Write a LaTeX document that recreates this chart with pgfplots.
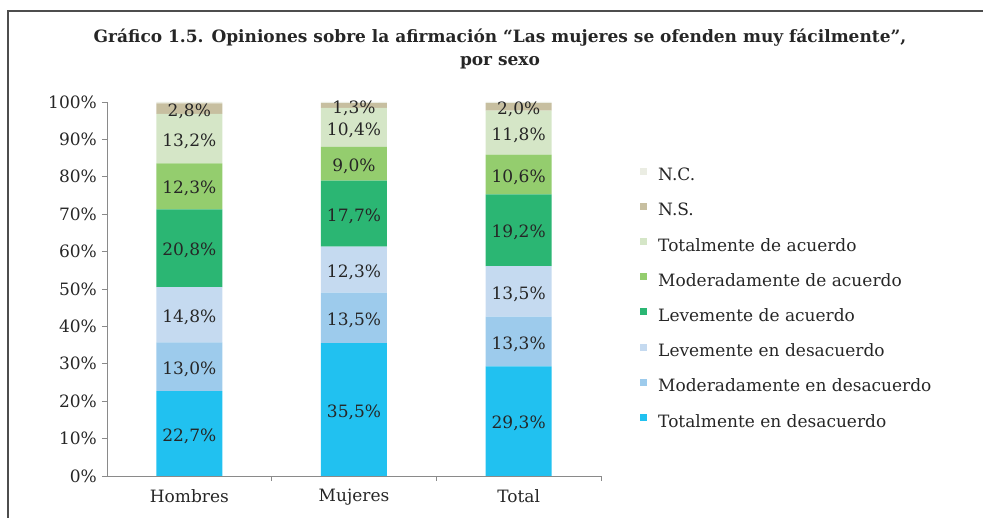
\documentclass[border=0pt]{standalone}
\usepackage{pgfplots}
\pgfplotsset{compat=1.18}
\usepackage{fontspec}
\setmainfont{DejaVu Serif}
\definecolor{cTD}{HTML}{21C1F0}
\definecolor{cMD}{HTML}{9DCBEC}
\definecolor{cLD}{HTML}{C5DAF0}
\definecolor{cLA}{HTML}{2BB673}
\definecolor{cMA}{HTML}{94CD6E}
\definecolor{cTA}{HTML}{D5E6C7}
\definecolor{cNS}{HTML}{C7BFA0}
\definecolor{cNC}{HTML}{EBEDE3}
\definecolor{textc}{HTML}{262626}
\definecolor{axisgray}{HTML}{8A8A8A}
\definecolor{framec}{HTML}{4D4D4D}
\pgfplotsset{
  lbl/.style={
    nodes near coords={\pgfmathprintnumber[fixed,fixed zerofill,precision=1,use comma,assume math mode=true]{\pgfplotspointmeta}\%},
    every node near coord/.append style={anchor=center, yshift=-2.5pt, font=\fontsize{17}{20}\selectfont, text=textc}
  }
}
\begin{document}
\begin{tikzpicture}[x=1pt,y=1pt]
\useasboundingbox (-107,-42) rectangle (876,476);
\begin{scope}
\clip (-107,-42) rectangle (876,476);
\draw[line width=1.5pt, color=framec] (-99,-80) rectangle (900,465);
\end{scope}
\node[font=\bfseries\fontsize{17}{23}\selectfont, align=center, text=textc] at (393,427.5)
  {Gráfico 1.5. Opiniones sobre la afirmación “Las mujeres se ofenden muy fácilmente”,\\ por sexo};
\begin{axis}[
  at={(0,0)}, anchor=south west,
  scale only axis, width=494pt, height=374pt,
  ybar stacked, bar width=66pt,
  xmin=-0.5, xmax=2.5, ymin=0, ymax=100,
  axis x line*=bottom, axis y line*=left,
  axis line style={-, color=axisgray, line width=0.8pt},
  ytick={0,10,...,100},
  yticklabel={\pgfmathprintnumber{\tick}\%},
  /pgf/number format/assume math mode=true,
  tick align=outside, major tick length=5pt,
  tick style={color=axisgray, line width=0.8pt},
  xtick={0,1,2}, xticklabels={Hombres,Mujeres,Total},
  xtick style={draw=none},
  extra x ticks={0.5,1.5,2.5}, extra x tick labels={},
  extra x tick style={xtick style={draw=axisgray}},
  tick label style={font=\fontsize{17}{20}\selectfont, text=textc, inner sep=0pt},
  yticklabel style={xshift=-5pt},
  xticklabel style={yshift=-8pt},
  reverse legend,
  legend cell align=left,
  legend style={draw=none, fill=none, inner sep=0pt, at={(1.079,0.825)}, anchor=north west,
    font=\fontsize{17}{20}\selectfont, text=textc, row sep=17.7pt,
    nodes={inner sep=0pt, text height=12.5pt, text depth=4.5pt},
    /tikz/every odd column/.append style={column sep=11pt}},
  legend image code/.code={\fill[#1] (0pt,2pt) rectangle (7pt,9pt);},
]
\addplot[fill=cTD, draw=none, lbl] coordinates {(0,22.7) (1,35.5) (2,29.3)};
\addplot[fill=cMD, draw=none, lbl] coordinates {(0,13.0) (1,13.5) (2,13.3)};
\addplot[fill=cLD, draw=none, lbl] coordinates {(0,14.8) (1,12.3) (2,13.5)};
\addplot[fill=cLA, draw=none, lbl] coordinates {(0,20.8) (1,17.7) (2,19.2)};
\addplot[fill=cMA, draw=none, lbl] coordinates {(0,12.3) (1,9.0) (2,10.6)};
\addplot[fill=cTA, draw=none, lbl] coordinates {(0,13.2) (1,10.4) (2,11.8)};
\addplot[fill=cNS, draw=none, lbl] coordinates {(0,2.8) (1,1.3) (2,2.0)};
\addplot[fill=cNC, draw=none] coordinates {(0,0.4) (1,0.3) (2,0.3)};
\legend{Totalmente en desacuerdo, Moderadamente en desacuerdo, Levemente en desacuerdo, Levemente de acuerdo, Moderadamente de acuerdo, Totalmente de acuerdo, N.S., N.C.}
\end{axis}
\end{tikzpicture}
\end{document}
